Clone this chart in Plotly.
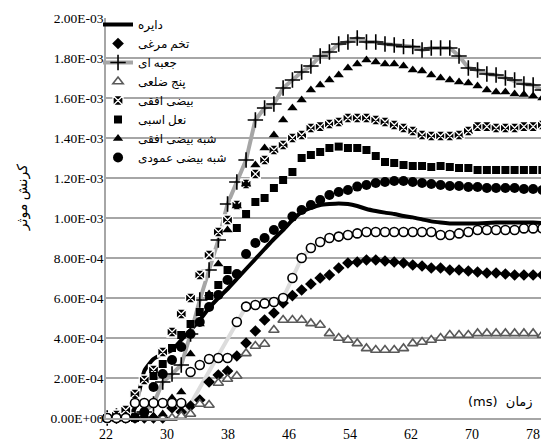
import plotly.graph_objects as go

# time axis (ms)
time_ms = [22.16, 23.37, 24.59, 25.80, 27.02, 28.23, 29.44, 30.66, 31.87, 33.09,
           34.30, 35.52, 36.73, 37.94, 39.16, 40.37, 41.59, 42.80, 44.02, 45.23,
           46.45, 47.66, 48.87, 50.09, 51.30, 52.52, 53.73, 54.95, 56.16, 57.38,
           58.59, 59.80, 61.02, 62.23, 63.45, 64.66, 65.88, 67.09, 68.30, 69.52,
           70.73, 71.95, 73.16, 74.38, 75.59, 76.81, 78.02, 79.23]

# effective strain values, in units of 1E-03
circle_e3 = [0, 0, 0, 0.05, 0.235, 0.295, 0.32, 0.34, 0.39, 0.44,
             0.49, 0.55, 0.60, 0.645, 0.695, 0.745, 0.795, 0.845, 0.895, 0.94,
             0.99, 1.03, 1.05, 1.065, 1.07, 1.073, 1.07, 1.06, 1.045, 1.035,
             1.027, 1.02, 1.01, 1.003, 0.993, 0.983, 0.977, 0.973, 0.972, 0.972,
             0.973, 0.975, 0.977, 0.978, 0.978, 0.978, 0.977, 0.975]
egg_e3 = [0, 0, 0, 0, 0, 0, 0, 0.05, 0.03, 0.06,
          0.09, 0.18, 0.215, 0.235, 0.31, 0.375, 0.435, 0.49, 0.525, 0.575,
          0.612, 0.64, 0.67, 0.70, 0.715, 0.75, 0.775, 0.78, 0.79, 0.79,
          0.785, 0.78, 0.775, 0.765, 0.76, 0.75, 0.75, 0.74, 0.74, 0.735,
          0.73, 0.725, 0.725, 0.72, 0.715, 0.715, 0.715, 0.715]
box_e3 = [0, 0.01, 0.02, 0.02, 0.03, 0.07, 0.18, 0.22, 0.265, 0.42,
          0.59, 0.74, 0.89, 1.07, 1.18, 1.29, 1.49, 1.55, 1.57, 1.65,
          1.69, 1.73, 1.76, 1.81, 1.83, 1.87, 1.88, 1.90, 1.88, 1.88,
          1.87, 1.865, 1.857, 1.857, 1.84, 1.85, 1.85, 1.85, 1.81, 1.75,
          1.74, 1.72, 1.715, 1.70, 1.69, 1.67, 1.665, 1.64]
penta_e3 = [0, 0, 0, 0, 0, 0, 0, 0, 0.01, 0.02,
            0.07, 0.065, 0.175, 0.195, 0.21, 0.323, 0.36, 0.37, 0.44, 0.49,
            0.49, 0.49, 0.473, 0.465, 0.423, 0.40, 0.39, 0.373, 0.348, 0.34,
            0.34, 0.34, 0.348, 0.373, 0.38, 0.39, 0.40, 0.415, 0.415, 0.415,
            0.423, 0.423, 0.423, 0.423, 0.423, 0.423, 0.423, 0.415]
h_ellipse_e3 = [0, 0.015, 0.04, 0.12, 0.19, 0.24, 0.33, 0.43, 0.52, 0.60,
                0.715, 0.815, 0.93, 0.99, 1.065, 1.17, 1.22, 1.29, 1.34, 1.365,
                1.40, 1.415, 1.45, 1.457, 1.47, 1.48, 1.50, 1.50, 1.50, 1.49,
                1.48, 1.465, 1.45, 1.435, 1.415, 1.41, 1.41, 1.41, 1.415, 1.435,
                1.457, 1.457, 1.45, 1.45, 1.45, 1.457, 1.457, 1.465]
horseshoe_e3 = [0, 0, 0, 0, 0.02, 0.21, 0.27, 0.35, 0.415, 0.47,
                0.53, 0.61, 0.665, 0.74, 0.95, 1.02, 1.08, 1.10, 1.15, 1.19,
                1.23, 1.30, 1.315, 1.33, 1.35, 1.357, 1.35, 1.35, 1.34, 1.31,
                1.28, 1.275, 1.265, 1.26, 1.26, 1.255, 1.26, 1.255, 1.25, 1.25,
                1.24, 1.24, 1.24, 1.24, 1.24, 1.24, 1.24, 1.24]
quasi_h_e3 = [0, 0, 0, 0, 0, 0.01, 0.02, 0.10, 0.13, 0.32,
              0.47, 0.62, 0.77, 0.94, 1.06, 1.17, 1.265, 1.35, 1.415, 1.49,
              1.55, 1.59, 1.64, 1.665, 1.69, 1.715, 1.75, 1.77, 1.79, 1.78,
              1.77, 1.77, 1.76, 1.74, 1.735, 1.715, 1.70, 1.69, 1.68, 1.675,
              1.66, 1.64, 1.63, 1.63, 1.62, 1.617, 1.61, 1.60]
quasi_v_e3 = [0, 0, 0, 0, 0.03, 0.155, 0.22, 0.29, 0.355, 0.42,
              0.48, 0.555, 0.615, 0.69, 0.72, 0.82, 0.875, 0.90, 0.94, 0.965,
              1.007, 1.04, 1.065, 1.09, 1.115, 1.13, 1.14, 1.157, 1.165, 1.175,
              1.18, 1.185, 1.185, 1.18, 1.175, 1.17, 1.165, 1.16, 1.16, 1.155,
              1.155, 1.15, 1.15, 1.15, 1.15, 1.145, 1.145, 1.14]
extra_open_e3 = [0, 0, 0, 0.075, 0.075, 0.075, 0.075, 0.075, 0.075, 0.23,
                 0.265, 0.295, 0.30, 0.30, 0.48, 0.557, 0.565, 0.573, 0.58, 0.60,
                 0.70, 0.80, 0.85, 0.88, 0.90, 0.907, 0.915, 0.923, 0.93, 0.93,
                 0.93, 0.93, 0.93, 0.93, 0.93, 0.93, 0.915, 0.915, 0.923, 0.93,
                 0.94, 0.94, 0.94, 0.94, 0.94, 0.948, 0.948, 0.948]
extra_line_e3 = [0, 0, 0, 0, 0, 0, 0, 0, 0, 0.07,
                 0.15, 0.24, 0.32, 0.40, 0.48, 0.557, 0.565, 0.573, 0.58, 0.60,
                 0.70, 0.80, 0.85, 0.88, 0.90, 0.907, 0.915, 0.923, 0.93, 0.93,
                 0.93, 0.93, 0.93, 0.93, 0.93, 0.93, 0.915, 0.915, 0.923, 0.93,
                 0.94, 0.94, 0.94, 0.94, 0.94, 0.948, 0.948, 0.948]

series_names = ["دایره", "تخم مرغی", "جعبه ای", "پنج ضلعی", "بیضی افقی",
                "نعل اسبی", "شبه بیضی افقی", "شبه بیضی عمودی"]

y_tick_vals = [0, 0.2, 0.4, 0.6, 0.8, 1.0, 1.2, 1.4, 1.6, 1.8, 2.0]
y_tick_text = ["0.00E+00", "2.00E-04", "4.00E-04", "6.00E-04", "8.00E-04",
               "1.00E-03", "1.20E-03", "1.40E-03", "1.60E-03", "1.80E-03", "2.00E-03"]
x_tick_vals = [22, 30, 38, 46, 54, 62, 70, 78]

y_title = "کرنش موثر"
x_title = "(ms)  زمان"

SERIF = "Liberation Serif, Times New Roman, DejaVu Sans, serif"

fig = go.Figure()

fig.add_trace(go.Scatter(x=time_ms, y=extra_line_e3, mode="lines", showlegend=False,
                         line=dict(color="#dcdcdc", width=4), cliponaxis=False))
fig.add_trace(go.Scatter(x=time_ms, y=circle_e3, name=series_names[0], mode="lines",
                         line=dict(color="black", width=4, shape="spline", smoothing=0.5),
                         cliponaxis=False))
fig.add_trace(go.Scatter(x=time_ms, y=egg_e3, name=series_names[1], mode="markers",
                         marker=dict(symbol="diamond", size=9, color="black"),
                         cliponaxis=False))
fig.add_trace(go.Scatter(x=time_ms, y=box_e3, name=series_names[2], mode="lines+markers",
                         line=dict(color="#a6a6a6", width=4),
                         marker=dict(symbol="cross-thin", size=11, color="black",
                                     line=dict(color="black", width=1.6)),
                         cliponaxis=False))
fig.add_trace(go.Scatter(x=time_ms, y=penta_e3, name=series_names[3], mode="markers",
                         marker=dict(symbol="triangle-up", size=9, color="white",
                                     line=dict(color="#595959", width=1.6)),
                         cliponaxis=False))
fig.add_trace(go.Scatter(x=time_ms, y=h_ellipse_e3, name=series_names[4], mode="markers",
                         marker=dict(symbol="square-x", size=10, color="black",
                                     line=dict(color="white", width=1.3)),
                         cliponaxis=False))
fig.add_trace(go.Scatter(x=time_ms, y=horseshoe_e3, name=series_names[5], mode="markers",
                         marker=dict(symbol="square", size=8, color="black"),
                         cliponaxis=False))
fig.add_trace(go.Scatter(x=time_ms, y=quasi_h_e3, name=series_names[6], mode="markers",
                         marker=dict(symbol="triangle-up", size=9, color="black"),
                         cliponaxis=False))
fig.add_trace(go.Scatter(x=time_ms, y=quasi_v_e3, name=series_names[7], mode="markers",
                         marker=dict(symbol="circle", size=10, color="black"),
                         cliponaxis=False))
fig.add_trace(go.Scatter(x=time_ms, y=extra_open_e3, mode="markers", showlegend=False,
                         marker=dict(symbol="circle", size=9, color="white",
                                     line=dict(color="black", width=1.6)),
                         cliponaxis=False))

# the page body adds an 8px offset, so the figure is sized to fit the window
fig.update_layout(
    width=541, height=437,
    margin=dict(l=98, r=0, t=10, b=27),
    paper_bgcolor="white", plot_bgcolor="white",
    font=dict(family=SERIF, size=13, color="black"),
    showlegend=True,
    legend=dict(x=-0.018, y=1.02, xanchor="left", yanchor="top",
                bgcolor="rgba(0,0,0,0)", borderwidth=0,
                font=dict(family=SERIF, size=12, color="black"),
                itemwidth=30, tracegroupgap=0),
    xaxis=dict(range=[22, 80.1], tickvals=x_tick_vals, showgrid=False,
               zeroline=False, showline=True, linecolor="#a6a6a6", linewidth=1.5,
               ticks="", tickfont=dict(family=SERIF, size=14), ticklabelstandoff=2,
               automargin=False),
    yaxis=dict(range=[0, 2.0], tickvals=y_tick_vals, ticktext=y_tick_text,
               showgrid=True, gridcolor="#a6a6a6", gridwidth=1.5,
               zeroline=False, showline=True, linecolor="#a6a6a6", linewidth=1.5,
               ticks="", tickfont=dict(family=SERIF, size=13.5), ticklabelstandoff=-2,
               automargin=False),
    annotations=[
        dict(text=y_title, xref="paper", yref="paper", x=-0.187, y=0.55,
             textangle=-90, showarrow=False, xanchor="center", yanchor="middle",
             font=dict(family=SERIF, size=14)),
        dict(text=x_title, xref="paper", yref="paper", x=0.968, y=0.04,
             showarrow=False, xanchor="right", yanchor="middle",
             font=dict(family="DejaVu Sans, sans-serif", size=13)),
    ],
)

fig.write_html("out.html")
